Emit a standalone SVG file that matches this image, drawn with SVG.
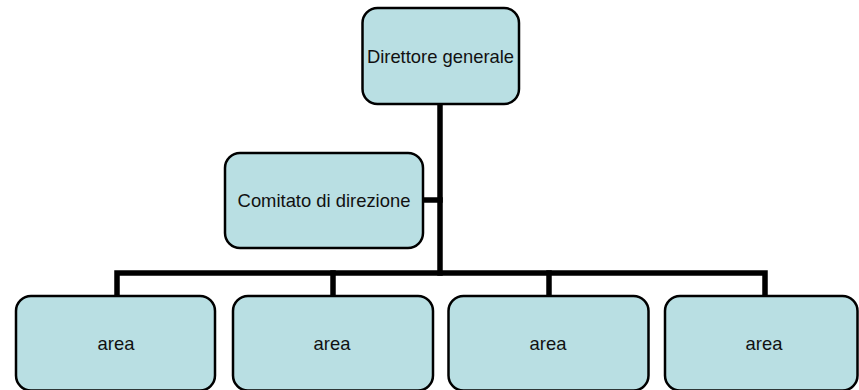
<svg xmlns="http://www.w3.org/2000/svg" width="859" height="390" viewBox="0 0 859 390">
<style>
.box{fill:#b9dfe3;stroke:#000;stroke-width:2.5}
.lbl{font-family:"Liberation Sans",Arial,sans-serif;font-size:18.4px;fill:#111;text-anchor:middle}
.conn{stroke:#000;stroke-width:5.5;fill:none;stroke-linecap:square}
</style>
<rect width="859" height="390" fill="#fff"/>
<g id="connectors">
<line class="conn" x1="440" y1="104" x2="440" y2="273"/>
<line class="conn" x1="423" y1="200" x2="440" y2="200"/>
<polyline class="conn" points="117,295 117,273 765,273 765,295"/>
<line class="conn" x1="333" y1="273" x2="333" y2="295"/>
<line class="conn" x1="549" y1="273" x2="549" y2="295"/>
</g>
<g id="direttore">
<rect class="box" x="362.5" y="8" width="156.5" height="96" rx="15"/>
<text class="lbl" x="440.5" y="63">Direttore generale</text>
</g>
<g id="comitato">
<rect class="box" x="225" y="153" width="198" height="95" rx="15"/>
<text class="lbl" x="324" y="207">Comitato di direzione</text>
</g>
<g id="area1">
<rect class="box" x="16" y="296" width="199" height="94.5" rx="15"/>
<text class="lbl" x="116" y="350">area</text>
</g>
<g id="area2">
<rect class="box" x="233" y="296" width="200" height="94.5" rx="15"/>
<text class="lbl" x="332" y="350">area</text>
</g>
<g id="area3">
<rect class="box" x="448.5" y="296" width="200" height="94.5" rx="15"/>
<text class="lbl" x="548" y="350">area</text>
</g>
<g id="area4">
<rect class="box" x="665" y="296" width="192.5" height="94.5" rx="15"/>
<text class="lbl" x="764" y="350">area</text>
</g>
</svg>
